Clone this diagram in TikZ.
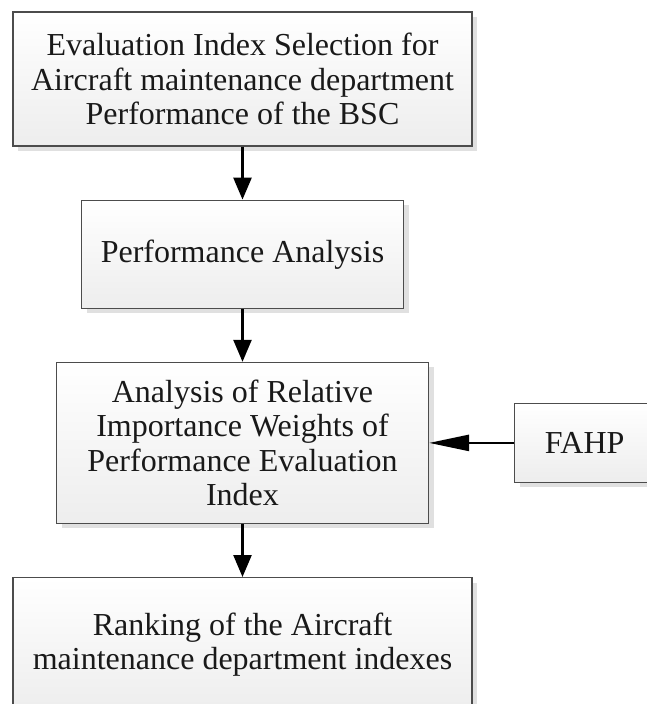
\documentclass[tikz,border=0pt]{standalone}
\usepackage{fontspec}
\setmainfont{Liberation Serif}
\usetikzlibrary{positioning, arrows.meta, shadows}

\begin{document}
\begin{tikzpicture}[ x = 1pt, y = 1pt
                     , node distance = 53pt and 85pt
                     , font = \fontsize{32}{34.5}\selectfont
                     , line width = 2.5pt
                     , >={Triangle[width=18pt, length=22pt]}
                     , stage/.style = { rectangle
                                      , draw = black!70
                                      , line width = 1.2pt
                                      , align = center
                                      , inner sep = 4pt
                                      , text = black!90
                                      , top color = white
                                      , bottom color = black!7
                                      , drop shadow = {shadow xshift=5pt,shadow yshift=-5pt,fill=black!12,opacity=1} }
                     ]

  \useasboundingbox (0,0) rectangle (646,-704);

  \node (selection) [stage, minimum width = 459pt, minimum height = 134pt] at (242.5,-79)
    {Evaluation Index Selection for\\ Aircraft maintenance department\\ Performance of the BSC};
  \node (performance) [stage, below = of selection, minimum width = 322pt, minimum height = 108pt]
    {Performance Analysis};
  \node (weights) [stage, below = of performance, minimum width = 372pt, minimum height = 161pt]
    {Analysis of Relative\\ Importance Weights of\\ Performance Evaluation\\ Index};
  \node (ranking) [stage, below = of weights, minimum width = 459pt, minimum height = 134pt]
    {Ranking of the Aircraft\\ maintenance department indexes};
  \node (fahp) [stage, right = of weights, minimum width = 140pt, minimum height = 79pt] {FAHP};

  \draw[->] (selection) -- (performance);
  \draw[->] (performance) -- (weights);
  \draw[->] (weights) -- (ranking);
  \draw[-{Triangle[width=16pt, length=40pt]}] (fahp) -- (weights);

\end{tikzpicture}
\end{document}
